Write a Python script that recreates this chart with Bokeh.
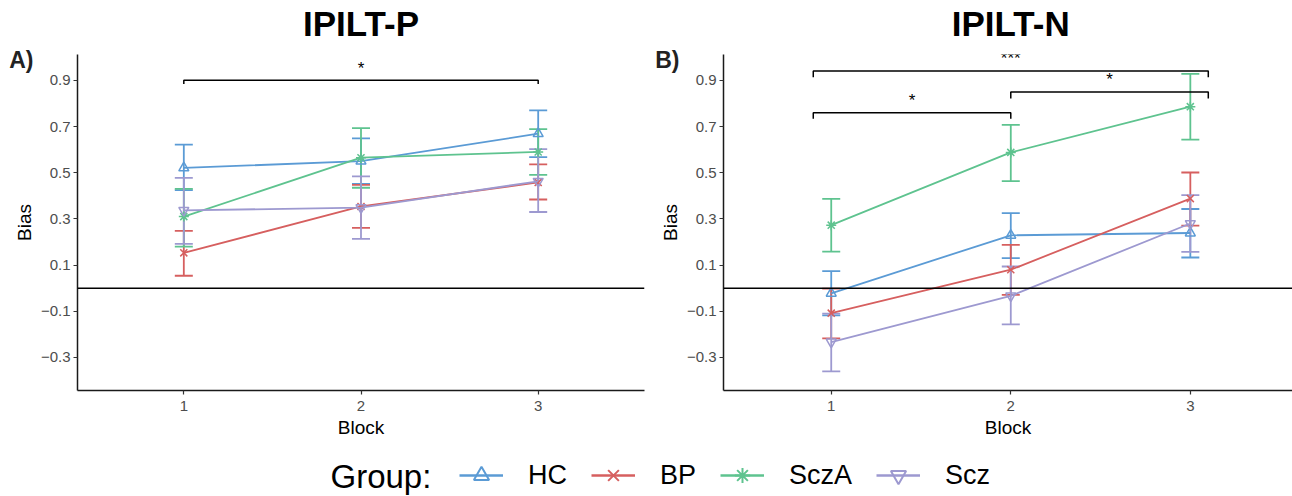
from bokeh.plotting import figure
from bokeh.models import (Range1d, Span, Whisker, TeeHead, ColumnDataSource, Label,
                          Legend, LegendItem, FixedTicker, LinearAxis,
                          CustomJSTickFormatter)
from bokeh.layouts import row, column
from bokeh.embed import file_html
from bokeh.resources import INLINE
from bokeh.core.properties import value

FONT = "Liberation Sans"

# ---------------- data ----------------
blocks = [1, 2, 3]
groups = ["HC", "BP", "SczA", "Scz"]
y_ticks = [-0.3, -0.1, 0.1, 0.3, 0.5, 0.7, 0.9]

# IPILT-P
p_HC_mean = [0.521, 0.550, 0.669]
p_HC_lo = [0.425, 0.452, 0.568]
p_HC_hi = [0.622, 0.649, 0.770]
p_BP_mean = [0.153, 0.354, 0.458]
p_BP_lo = [0.054, 0.261, 0.384]
p_BP_hi = [0.248, 0.447, 0.536]
p_SczA_mean = [0.310, 0.565, 0.590]
p_SczA_lo = [0.180, 0.435, 0.491]
p_SczA_hi = [0.430, 0.693, 0.689]
p_Scz_mean = [0.337, 0.349, 0.463]
p_Scz_lo = [0.192, 0.214, 0.330]
p_Scz_hi = [0.478, 0.484, 0.602]

# IPILT-N
n_HC_mean = [-0.022, 0.229, 0.239]
n_HC_lo = [-0.118, 0.130, 0.133]
n_HC_hi = [0.074, 0.325, 0.343]
n_BP_mean = [-0.108, 0.080, 0.388]
n_BP_lo = [-0.217, -0.029, 0.271]
n_BP_hi = [-0.002, 0.188, 0.501]
n_SczA_mean = [0.273, 0.588, 0.786]
n_SczA_lo = [0.158, 0.464, 0.643]
n_SczA_hi = [0.387, 0.707, 0.928]
n_Scz_mean = [-0.233, -0.033, 0.280]
n_Scz_lo = [-0.360, -0.157, 0.157]
n_Scz_hi = [-0.110, 0.094, 0.403]

# significance brackets
p_sig_x0 = [1.0]
p_sig_x1 = [3.0]
p_sig_y = [0.900]
p_sig_tip = [0.016]
p_sig_label = ["*"]

n_sig_x0 = [0.9, 2.0, 0.9]
n_sig_x1 = [3.1, 3.1, 2.0]
n_sig_y = [0.941, 0.850, 0.760]
n_sig_tip = [0.028, 0.028, 0.026]
n_sig_label = ["***", "*", "*"]

# ---------------- style ----------------
colors = {"HC": "#5B9BD5", "BP": "#D65F5F", "SczA": "#5EC38F", "Scz": "#9D99D0"}
markers = {"HC": "triangle", "BP": "x", "SczA": "asterisk", "Scz": "inverted_triangle"}

p_data = {
    "HC": (p_HC_mean, p_HC_lo, p_HC_hi),
    "BP": (p_BP_mean, p_BP_lo, p_BP_hi),
    "SczA": (p_SczA_mean, p_SczA_lo, p_SczA_hi),
    "Scz": (p_Scz_mean, p_Scz_lo, p_Scz_hi),
}
n_data = {
    "HC": (n_HC_mean, n_HC_lo, n_HC_hi),
    "BP": (n_BP_mean, n_BP_lo, n_BP_hi),
    "SczA": (n_SczA_mean, n_SczA_lo, n_SczA_hi),
    "Scz": (n_Scz_mean, n_Scz_lo, n_Scz_hi),
}


def bare_axis(ticks, text, size, bold, color, standoff):
    return LinearAxis(ticker=FixedTicker(ticks=ticks),
                      formatter=CustomJSTickFormatter(code="return '%s'" % text),
                      axis_line_color=None, major_tick_line_color=None,
                      minor_tick_line_color=None, major_tick_out=0, major_tick_in=0,
                      minor_tick_out=0, minor_tick_in=0, major_label_standoff=standoff,
                      major_label_text_font=FONT, major_label_text_font_size=size,
                      major_label_text_font_style="bold" if bold else "normal",
                      major_label_text_color=color)


def make_panel(title, letter, data, sig, width, min_left, min_right, x_end):
    p = figure(width=width, height=440, x_range=Range1d(0.4, x_end),
               y_range=Range1d(-0.443, 1.012), output_backend="svg",
               toolbar_location=None, min_border_left=min_left,
               min_border_right=min_right, min_border_top=54, min_border_bottom=50,
               background_fill_color="white", border_fill_color="white")
    p.outline_line_color = None
    p.xgrid.visible = False
    p.ygrid.visible = False
    p.title.text = ""

    p.xaxis.ticker = FixedTicker(ticks=blocks)
    p.yaxis.ticker = FixedTicker(ticks=y_ticks)
    p.xaxis.axis_label = "Block"
    p.yaxis.axis_label = "Bias"
    for ax in (p.xaxis, p.yaxis):
        ax.axis_line_color = "#1a1a1a"
        ax.axis_line_width = 1.5
        ax.major_tick_line_color = "#333333"
        ax.major_tick_line_width = 1.2
        ax.major_tick_out = 4
        ax.major_tick_in = 0
        ax.minor_tick_out = 0
        ax.minor_tick_in = 0
        ax.major_label_text_font = FONT
        ax.major_label_text_font_size = "15px"
        ax.major_label_text_color = "#4d4d4d"
        ax.axis_label_text_font = FONT
        ax.axis_label_text_font_size = "19px"
        ax.axis_label_text_font_style = "normal"
        ax.axis_label_text_color = "black"
    p.xaxis.major_label_standoff = 6
    p.xaxis.axis_label_standoff = 3
    p.yaxis.major_label_standoff = 3
    p.yaxis.axis_label_standoff = 3

    # panel title, centred over block 2, as the single label of a bare top axis
    p.add_layout(bare_axis([2], title, "35px", True, "black", 12), "above")
    # panel letter, as the single label of a bare extra left axis
    p.add_layout(bare_axis([0.988], letter, "23px", True, "#222222", -23), "left")

    p.add_layout(Span(location=0, dimension="width", line_color="black", line_width=1.5))

    for g in groups:
        mean, lo, hi = data[g]
        c = colors[g]
        p.line(blocks, mean, line_color=c, line_width=1.8)
        src = ColumnDataSource(dict(x=blocks, lo=lo, hi=hi))
        w = Whisker(base="x", upper="hi", lower="lo", source=src,
                    line_color=c, line_width=1.8,
                    upper_head=TeeHead(size=18, line_color=c, line_width=1.8),
                    lower_head=TeeHead(size=18, line_color=c, line_width=1.8))
        p.add_layout(w)
        p.scatter(blocks, mean, marker=markers[g], size=10, line_color=c,
                  fill_color=None, line_width=1.5)

    x0s, x1s, ys, tips, labs = sig
    xs = [[a, a, b, b] for a, b in zip(x0s, x1s)]
    yss = [[y - t, y, y, y - t] for y, t in zip(ys, tips)]
    p.multi_line(xs, yss, line_color="black", line_width=1.5)
    p.text(x=[(a + b) / 2 for a, b in zip(x0s, x1s)], y=ys, text=labs,
           text_align="center", text_baseline="middle", y_offset=-12,
           text_font=value(FONT), text_font_size="17px", text_color="black")
    return p


p1 = make_panel("IPILT-P", "A)", p_data,
                (p_sig_x0, p_sig_x1, p_sig_y, p_sig_tip, p_sig_label),
                648, 77, 4, 3.6)
p2 = make_panel("IPILT-N", "B)", n_data,
                (n_sig_x0, n_sig_x1, n_sig_y, n_sig_tip, n_sig_label),
                644, 75, 0, 3.569)

# ---------------- legend strip ----------------
leg = figure(width=1292, height=56, x_range=Range1d(0, 1292), y_range=Range1d(0, 56),
             x_axis_type=None, y_axis_type=None, output_backend="svg",
             toolbar_location=None, min_border=0)
leg.outline_line_color = None
leg.xgrid.visible = False
leg.ygrid.visible = False

nan = float("nan")
items = []
for g in groups:
    c = colors[g]
    r1 = leg.line(x=[nan], y=[nan], line_color=c, line_width=2.6)
    r2 = leg.scatter(x=[nan], y=[nan], marker=markers[g], line_color=c, fill_color=None,
                     line_width=2.0)
    items.append(LegendItem(label=g, renderers=[r1, r2]))

legend = Legend(items=items, orientation="horizontal", location=(459, 2),
                glyph_width=44, glyph_height=38, label_standoff=25, spacing=24,
                padding=0, margin=0, border_line_color=None,
                background_fill_alpha=0, label_text_font=FONT,
                label_text_font_size="27px", label_text_color="black")
leg.add_layout(legend, "center")
leg.add_layout(Label(x=330, y=20, text="Group:", text_font=FONT, text_font_size="33px",
                     text_color="black", text_baseline="middle", text_align="left"))

layout = column(row(p1, p2, spacing=0), leg, spacing=0)

open("out.html", "w").write(file_html(layout, INLINE))
